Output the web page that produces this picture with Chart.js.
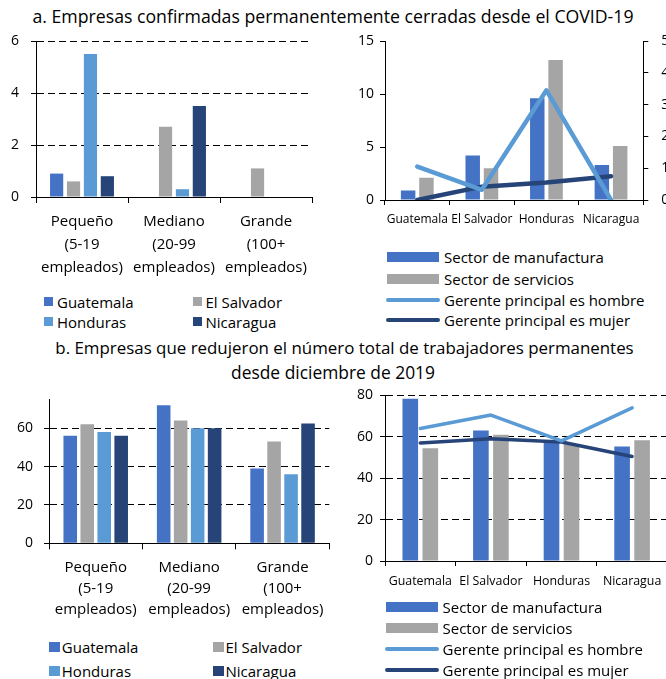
<!DOCTYPE html>
<html lang="es">
<head>
<meta charset="utf-8">
<title>Empresas cerradas y empresas que redujeron trabajadores</title>
<script src="https://cdn.jsdelivr.net/npm/chart.js@4.4.1/dist/chart.umd.min.js"></script>
<style>
  html, body { margin: 0; padding: 0; background: #fff; }
  body { width: 666px; height: 679px; position: relative; overflow: hidden;
         font-family: "Open Sans", sans-serif; color: #000; }
  canvas { position: absolute; }
  .title { position: absolute; text-align: center; line-height: 24px; white-space: nowrap; }
  .legend-item { position: absolute; height: 20px; display: flex; align-items: center;
                 white-space: nowrap; font-size: 15px; }
  .legend-item span.mark { display: inline-block; flex: none; }
</style>
</head>
<body>
<div class="title" style="top:4px;left:0;width:666px;font-size:17.7px">a. Empresas confirmadas permanentemente cerradas desde el COVID-19</div>
<div class="title" style="top:336px;left:23px;width:643px;font-size:16.9px">b. Empresas que redujeron el número total de trabajadores permanentes</div>
<div class="title" style="top:360px;left:0;width:666px;font-size:17.4px">desde diciembre de 2019</div>

<canvas id="closedBySize" width="340" height="290" style="left:0;top:0"></canvas>
<canvas id="closedBySector" width="340" height="240" style="left:340px;top:0"></canvas>
<canvas id="reducedBySize" width="340" height="240" style="left:0;top:380px"></canvas>
<canvas id="reducedBySector" width="360" height="220" style="left:340px;top:380px"></canvas>

<script>
// Categories
const sizeCategories = [
  ["Pequeño", "(5-19", "empleados)"],
  ["Mediano", "(20-99", "empleados)"],
  ["Grande", "(100+", "empleados)"]
];
const countries = ["Guatemala", "El Salvador", "Honduras", "Nicaragua"];
const seriesNames = ["Sector de manufactura", "Sector de servicios",
                     "Gerente principal es hombre", "Gerente principal es mujer"];

// a. Firms permanently closed, by firm size (%)
const closedGuatemala  = [0.9, 0, 0];
const closedElSalvador = [0.6, 2.7, 1.1];
const closedHonduras   = [5.5, 0.3, 0];
const closedNicaragua  = [0.8, 3.5, 0];

// a. Firms permanently closed, by sector (left axis) and manager gender (right axis)
const closedManufacturing = [0.9, 4.2, 9.6, 3.3];
const closedServices      = [2.1, 3.0, 13.2, 5.1];
const closedMaleManager   = [1.05, 0.32, 3.45, 0];
const closedFemaleManager = [0, 0.42, 0.55, 0.75];

// b. Firms that cut permanent workers, by firm size (%)
const reducedGuatemala  = [56, 72, 39];
const reducedElSalvador = [62, 64, 53];
const reducedHonduras   = [58, 60, 36];
const reducedNicaragua  = [56, 60, 62.5];

// b. Firms that cut permanent workers, by sector and manager gender (%)
const reducedManufacturing = [78.4, 63, 58.5, 55.3];
const reducedServices      = [54.5, 61, 56.5, 58.3];
const reducedMaleManager   = [64, 70.5, 58, 74];
const reducedFemaleManager = [57, 59, 57.5, 50.5];

// Palette
const BLUE = "#4472C4", GRAY = "#A5A5A5", LIGHT = "#5B9BD5", NAVY = "#264478";
const countryColors = [BLUE, GRAY, LIGHT, NAVY];
const AXIS = "#000";
const FONT = "'Open Sans', sans-serif";

Chart.defaults.font.family = FONT;
Chart.defaults.color = "#000";

const baseOptions = () => ({
  responsive: false,
  animation: false,
  events: [],
  plugins: { legend: { display: false }, tooltip: { enabled: false } }
});

const xCategoryAxis = (size, lineHeight, pad, tickLen, height) => ({
  grid: { display: true, drawOnChartArea: false, offset: true, tickLength: tickLen, color: AXIS },
  border: { color: AXIS, width: 1 },
  ticks: { font: { size: size, lineHeight: lineHeight }, color: "#000", padding: pad, maxRotation: 0, autoSkip: false },
  afterFit: s => { s.height = height; }
});

const yValueAxis = (opts) => ({
  position: opts.position || "left",
  min: opts.min, max: opts.max,
  ticks: { stepSize: opts.step, font: { size: 14 }, color: "#000", padding: opts.pad, includeBounds: false },
  grid: { display: true, drawOnChartArea: !!opts.gridLines, color: AXIS, lineWidth: 1,
          tickLength: 5, tickColor: AXIS, tickBorderDash: [] },
  border: { color: AXIS, width: 1, dash: opts.gridLines ? [7, 4] : [] },
  afterFit: s => { s.width = opts.width; }
});

// a. left panel: grouped bars by size
new Chart(document.getElementById("closedBySize"), {
  type: "bar",
  data: {
    labels: sizeCategories,
    datasets: [closedGuatemala, closedElSalvador, closedHonduras, closedNicaragua].map((d, i) => ({
      label: countries[i], data: d, backgroundColor: countryColors[i],
      categoryPercentage: 0.735, barPercentage: 0.78
    }))
  },
  options: Object.assign(baseOptions(), {
    layout: { padding: { left: 0, right: 28, top: 41, bottom: 0 } },
    scales: {
      x: xCategoryAxis(15, 23 / 15, 7.5, 6, 93),
      y: yValueAxis({ min: 0, max: 6, step: 2, pad: 12, width: 36, gridLines: true })
    }
  })
});

// a. right panel: bars by sector, lines by manager gender on right axis
new Chart(document.getElementById("closedBySector"), {
  type: "bar",
  data: {
    labels: countries,
    datasets: [
      { type: "line", label: seriesNames[2], data: closedMaleManager, yAxisID: "y1",
        borderColor: LIGHT, borderWidth: 4.5, pointRadius: 0, tension: 0, order: 0,
        borderCapStyle: "round", borderJoinStyle: "round" },
      { type: "line", label: seriesNames[3], data: closedFemaleManager, yAxisID: "y1",
        borderColor: NAVY, borderWidth: 4.5, pointRadius: 0, tension: 0, order: 0,
        borderCapStyle: "round", borderJoinStyle: "round" },
      { label: seriesNames[0], data: closedManufacturing, backgroundColor: BLUE,
        categoryPercentage: 0.567, barPercentage: 0.79, order: 1 },
      { label: seriesNames[1], data: closedServices, backgroundColor: GRAY,
        categoryPercentage: 0.567, barPercentage: 0.79, order: 1 }
    ]
  },
  options: Object.assign(baseOptions(), {
    layout: { padding: { left: 0, right: 6.7, top: 41, bottom: 0 } },
    scales: {
      x: xCategoryAxis(12, 1.2, 7.8, 5, 40),
      y: yValueAxis({ min: 0, max: 15, step: 5, pad: 6, width: 45, gridLines: false }),
      y1: yValueAxis({ position: "right", min: 0, max: 5, step: 1, pad: 13, width: 30, gridLines: false })
    }
  })
});

// b. left panel: grouped bars by size
new Chart(document.getElementById("reducedBySize"), {
  type: "bar",
  data: {
    labels: sizeCategories,
    datasets: [reducedGuatemala, reducedElSalvador, reducedHonduras, reducedNicaragua].map((d, i) => ({
      label: countries[i], data: d, backgroundColor: countryColors[i],
      categoryPercentage: 0.727, barPercentage: 0.8
    }))
  },
  options: Object.assign(baseOptions(), {
    layout: { padding: { left: 0, right: 10.7, top: 15, bottom: 0 } },
    scales: {
      x: xCategoryAxis(15, 21 / 15, 8.2, 6, 76.7),
      y: yValueAxis({ min: 0, max: 75, step: 20, pad: 11, width: 49, gridLines: true })
    }
  })
});

// b. right panel: bars by sector, lines by manager gender
new Chart(document.getElementById("reducedBySector"), {
  type: "bar",
  data: {
    labels: countries,
    datasets: [
      { type: "line", label: seriesNames[2], data: reducedMaleManager,
        borderColor: LIGHT, borderWidth: 3.5, pointRadius: 0, tension: 0, order: 0,
        borderCapStyle: "round", borderJoinStyle: "round" },
      { type: "line", label: seriesNames[3], data: reducedFemaleManager,
        borderColor: NAVY, borderWidth: 3.5, pointRadius: 0, tension: 0, order: 0,
        borderCapStyle: "round", borderJoinStyle: "round" },
      { label: seriesNames[0], data: reducedManufacturing, backgroundColor: BLUE,
        categoryPercentage: 0.567, barPercentage: 0.78, order: 1 },
      { label: seriesNames[1], data: reducedServices, backgroundColor: GRAY,
        categoryPercentage: 0.567, barPercentage: 0.78, order: 1 }
    ]
  },
  options: Object.assign(baseOptions(), {
    layout: { padding: { left: 0, right: 32.6, top: 15, bottom: 0 } },
    scales: {
      x: xCategoryAxis(12.4, 1.2, 7.6, 5, 39),
      y: yValueAxis({ min: 0, max: 80, step: 20, pad: 7, width: 45, gridLines: true })
    }
  })
});

// HTML legends
function addLegendItem(x, yCenter, label, mark, gap) {
  const item = document.createElement("div");
  item.className = "legend-item";
  item.style.left = x + "px";
  item.style.top = (yCenter - 10) + "px";
  const m = document.createElement("span");
  m.className = "mark";
  Object.assign(m.style, mark);
  const t = document.createElement("span");
  t.textContent = label;
  t.style.marginLeft = gap + "px";
  item.appendChild(m);
  item.appendChild(t);
  document.body.appendChild(item);
}

function countryLegend(cols, rows, size, gap) {
  countries.forEach((name, i) => {
    addLegendItem(cols[i % 2], rows[Math.floor(i / 2)], name,
      { width: size[0] + "px", height: size[1] + "px", background: countryColors[i] }, gap);
  });
}

function sectorLegend(x, rows, gap) {
  const marks = [
    { width: "52px", height: "10px", background: BLUE },
    { width: "52px", height: "10px", background: GRAY },
    { width: "54px", height: "4px", background: LIGHT, borderRadius: "2px" },
    { width: "54px", height: "4px", background: NAVY, borderRadius: "2px" }
  ];
  seriesNames.forEach((name, i) => addLegendItem(i < 2 ? x + 1 : x, rows[i], name, marks[i], i < 2 ? gap + 1 : gap));
}

countryLegend([44, 192.5], [301.7, 321.7], [9, 9], 4);
countryLegend([49.3, 213], [646.7, 671], [10.5, 10], 2);
sectorLegend(386, [256.7, 279, 300, 320], 4);
sectorLegend(384.5, [607.3, 628.3, 649.3, 670], 4);
</script>
</body>
</html>
